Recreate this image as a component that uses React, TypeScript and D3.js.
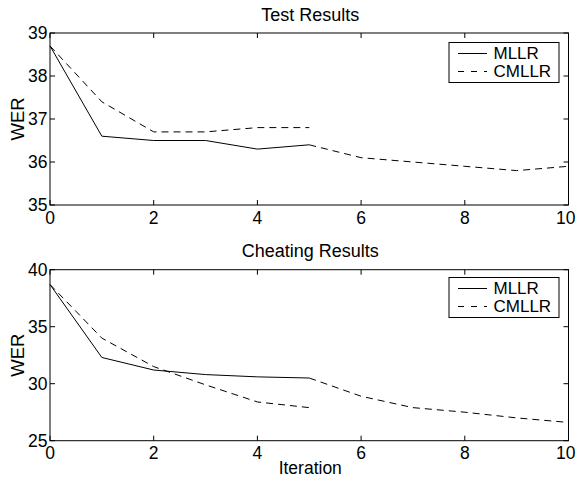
import React, { useEffect, useRef } from 'react';
import * as d3 from 'd3';

const iterFirst = [0, 1, 2, 3, 4, 5];
const iterSecond = [5, 6, 7, 8, 9, 10];

const testMllr = [38.7, 36.6, 36.5, 36.5, 36.3, 36.4];
const testCmllr = [38.7, 37.4, 36.7, 36.7, 36.8, 36.8];
const testAfter = [36.4, 36.1, 36.0, 35.9, 35.8, 35.9];

const cheatMllr = [38.7, 32.3, 31.2, 30.8, 30.6, 30.5];
const cheatCmllr = [38.7, 34.0, 31.5, 29.9, 28.4, 27.9];
const cheatAfter = [30.5, 28.9, 27.9, 27.5, 27.0, 26.6];

const xTicks = [0, 2, 4, 6, 8, 10];
const testYTicks = [35, 36, 37, 38, 39];
const cheatYTicks = [25, 30, 35, 40];
const legendLabels = ['MLLR', 'CMLLR'];

const FONT = 'Arial, "Liberation Sans", Helvetica, sans-serif';
const DASH = '7,5';

const App = () => {
  const ref = useRef(null);

  useEffect(() => {
    drawChart();
  }, []);

  function drawPanel(svg, opts) {
    const { top, bottom, yDomain, yTicks, title, mllr, cmllr, after, legendTop, xLabel } = opts;
    const left = 50;
    const right = 568.5;

    const x = d3.scaleLinear().domain([0, 10]).range([left, right]);
    const y = d3.scaleLinear().domain(yDomain).range([bottom, top]);

    const g = svg.append('g');

    // title
    g.append('text')
      .attr('x', (left + right) / 2 + 1)
      .attr('y', top - 12.5)
      .attr('text-anchor', 'middle')
      .style('font-family', FONT)
      .style('font-size', '18px')
      .text(title);

    // ticks inside the box, on all four sides
    const tickLen = 5;
    xTicks.forEach((t, i) => {
      const last = i === xTicks.length - 1;
      g.append('line').attr('x1', x(t)).attr('x2', x(t)).attr('y1', bottom).attr('y2', bottom - tickLen)
        .attr('stroke', 'black');
      g.append('line').attr('x1', x(t)).attr('x2', x(t)).attr('y1', top).attr('y2', top + tickLen)
        .attr('stroke', 'black');
      // the last label would run off the page, so pin it to the edge
      g.append('text')
        .attr('x', last ? 575.5 : x(t))
        .attr('y', bottom + 18.5)
        .attr('text-anchor', last ? 'end' : 'middle')
        .style('font-family', FONT)
        .style('font-size', '17.5px')
        .text(t);
    });
    yTicks.forEach((t) => {
      g.append('line').attr('x1', left).attr('x2', left + tickLen).attr('y1', y(t)).attr('y2', y(t))
        .attr('stroke', 'black');
      g.append('line').attr('x1', right).attr('x2', right - tickLen).attr('y1', y(t)).attr('y2', y(t))
        .attr('stroke', 'black');
      g.append('text')
        .attr('x', left - 2.5)
        .attr('y', y(t))
        .attr('dy', '0.35em')
        .attr('text-anchor', 'end')
        .style('font-family', FONT)
        .style('font-size', '17.5px')
        .text(t);
    });

    // y label
    g.append('text')
      .attr('transform', `translate(24, ${(top + bottom) / 2}) rotate(-90)`)
      .attr('text-anchor', 'middle')
      .style('font-family', FONT)
      .style('font-size', '18.5px')
      .text('WER');

    if (xLabel) {
      g.append('text')
        .attr('x', (left + right) / 2 + 1)
        .attr('y', bottom + 33.5)
        .attr('text-anchor', 'middle')
        .style('font-family', FONT)
        .style('font-size', '17.5px')
        .text(xLabel);
    }

    const line = d3.line().x((d) => x(d[0])).y((d) => y(d[1]));

    g.append('path')
      .datum(d3.zip(iterFirst, mllr))
      .attr('d', line)
      .attr('fill', 'none')
      .attr('stroke', 'black')
      .attr('stroke-width', 1);

    g.append('path')
      .datum(d3.zip(iterFirst, cmllr))
      .attr('d', line)
      .attr('fill', 'none')
      .attr('stroke', 'black')
      .attr('stroke-width', 1)
      .attr('stroke-dasharray', DASH);

    g.append('path')
      .datum(d3.zip(iterSecond, after))
      .attr('d', line)
      .attr('fill', 'none')
      .attr('stroke', 'black')
      .attr('stroke-width', 1)
      .attr('stroke-dasharray', DASH);

    // box
    g.append('rect')
      .attr('x', left)
      .attr('y', top)
      .attr('width', right - left)
      .attr('height', bottom - top)
      .attr('fill', 'none')
      .attr('stroke', 'black')
      .attr('stroke-width', 1);

    // legend
    const lx = 449;
    const lw = 110;
    const lh = 40;
    const lg = g.append('g');
    lg.append('rect')
      .attr('x', lx)
      .attr('y', legendTop)
      .attr('width', lw)
      .attr('height', lh)
      .attr('fill', 'white')
      .attr('stroke', 'black');
    legendLabels.forEach((label, i) => {
      const ly = legendTop + 11 + i * 18;
      lg.append('line')
        .attr('x1', lx + 9)
        .attr('x2', lx + 38)
        .attr('y1', ly)
        .attr('y2', ly)
        .attr('stroke', 'black')
        .attr('stroke-dasharray', i === 1 ? '6,7' : null);
      lg.append('text')
        .attr('x', lx + 44.5)
        .attr('y', ly)
        .attr('dy', '0.35em')
        .style('font-family', FONT)
        .style('font-size', '17px')
        .text(label);
    });
  }

  function drawChart() {
    d3.select(ref.current).selectAll('*').remove();
    const svg = d3.select(ref.current);

    drawPanel(svg, {
      top: 33,
      bottom: 205,
      yDomain: [35, 39],
      yTicks: testYTicks,
      title: 'Test Results',
      mllr: testMllr,
      cmllr: testCmllr,
      after: testAfter,
      legendTop: 42.5,
    });

    drawPanel(svg, {
      top: 269.7,
      bottom: 440.7,
      yDomain: [25, 40],
      yTicks: cheatYTicks,
      title: 'Cheating Results',
      mllr: cheatMllr,
      cmllr: cheatCmllr,
      after: cheatAfter,
      legendTop: 277.5,
      xLabel: 'Iteration',
    });
  }

  return (
    <svg
      ref={ref}
      width={576}
      height={478}
      style={{ position: 'absolute', left: 0, top: 0, background: 'white' }}
    />
  );
};

export default App;
